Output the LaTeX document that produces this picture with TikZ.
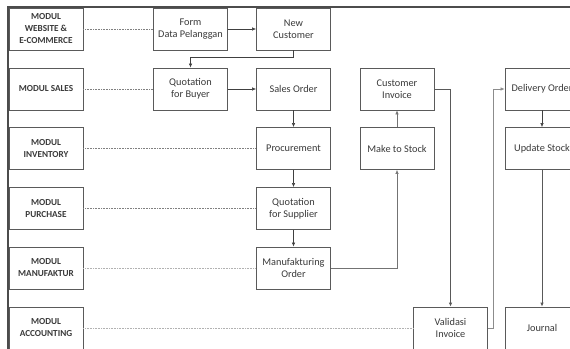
\documentclass[tikz,border=0pt]{standalone}
\usepackage{fontspec}
\setmainfont{Carlito}
\usetikzlibrary{arrows.meta}
\definecolor{boxline}{HTML}{5A5A5A}
\definecolor{txt}{HTML}{3A3A3A}
\begin{document}
\begin{tikzpicture}[x=1pt,y=-1pt,
  modbox/.style={draw=boxline,line width=0.8pt,minimum width=74pt,minimum height=42pt,inner sep=1pt,align=center,text=txt,font=\fontsize{9.2}{12}\selectfont\bfseries},
  procbox/.style={draw=boxline,line width=0.8pt,minimum width=74pt,minimum height=42pt,inner sep=1pt,align=center,text=txt,font=\fontsize{10.3}{12}\selectfont},
  arr/.style={draw=black!75,line width=0.6pt,-{Latex[length=4pt,width=3.5pt]}},
  link/.style={draw=black!50,line width=0.6pt,densely dotted},
  flow/.style={draw=black!65,line width=0.9pt}]
\useasboundingbox (0,0) rectangle (570,348);
\clip (0,0) rectangle (570,348);
\fill[white] (0,0) rectangle (570,348);
% outer frame
\draw[draw=black!70,line width=1.5pt] (8,360) -- (8,7) -- (600,7);
% module boxes
\node[modbox] (mweb) at (46,29) {MODUL\\WEBSITE \&\\E-COMMERCE};
\node[modbox] (msal) at (46,89) {MODUL SALES};
\node[modbox] (minv) at (46,148.5) {MODUL\\INVENTORY};
\node[modbox] (mpur) at (46,208.5) {MODUL\\PURCHASE};
\node[modbox] (mman) at (46,268) {MODUL\\MANUFAKTUR};
\node[modbox] (macc) at (46,328) {MODUL\\ACCOUNTING};
% process boxes
\node[procbox] (form) at (190.5,29) {Form\\Data Pelanggan};
\node[procbox] (nc) at (293.5,29) {New\\Customer};
\node[procbox] (qb) at (190.5,89) {Quotation\\for Buyer};
\node[procbox] (so) at (293.5,89) {Sales Order};
\node[procbox] (ci) at (397,89) {Customer\\Invoice};
\node[procbox] (do) at (542,89) {Delivery Order};
\node[procbox] (pr) at (293.5,148.5) {Procurement};
\node[procbox] (ms) at (397,148.5) {Make to Stock};
\node[procbox] (us) at (542,148.5) {Update Stock};
\node[procbox] (qs) at (293.5,208.5) {Quotation\\for Supplier};
\node[procbox] (mo) at (293.5,268) {Manufakturing\\Order};
\node[procbox] (vi) at (450.5,328) {Validasi\\Invoice};
\node[procbox] (jo) at (542,328) {Journal};
% module links
\draw[link] (mweb.east) -- (form.west);
\draw[link] (msal.east) -- (qb.west);
\draw[link] (minv.east) -- (pr.west);
\draw[link] (mpur.east) -- (qs.west);
\draw[link,draw=black!30] (mman.east) -- (mo.west);
\draw[link,draw=black!30] (macc.east) -- (vi.west);
% flow
\draw[arr] (form.east) -- (nc.west);
\draw[arr] (nc.south) -- ++(0,7) -| (qb.north);
\draw[arr] (qb.east) -- (so.west);
\draw[arr] (so.south) -- (pr.north);
\draw[arr] (pr.south) -- (qs.north);
\draw[arr] (qs.south) -- (mo.north);
\draw[arr,draw=black!55] (mo.east) -| (ms.south);
\draw[arr,draw=black!55] (ms.north) -- (ci.south);
\draw[arr,flow] (ci.east) -| (vi.north);
\draw[arr,draw=black!45] (vi.east) -- ++(5,0) |- (do.west);
\draw[arr] (do.south) -- (us.north);
\draw[arr,flow] (us.south) -- (jo.north);
\end{tikzpicture}
\end{document}
